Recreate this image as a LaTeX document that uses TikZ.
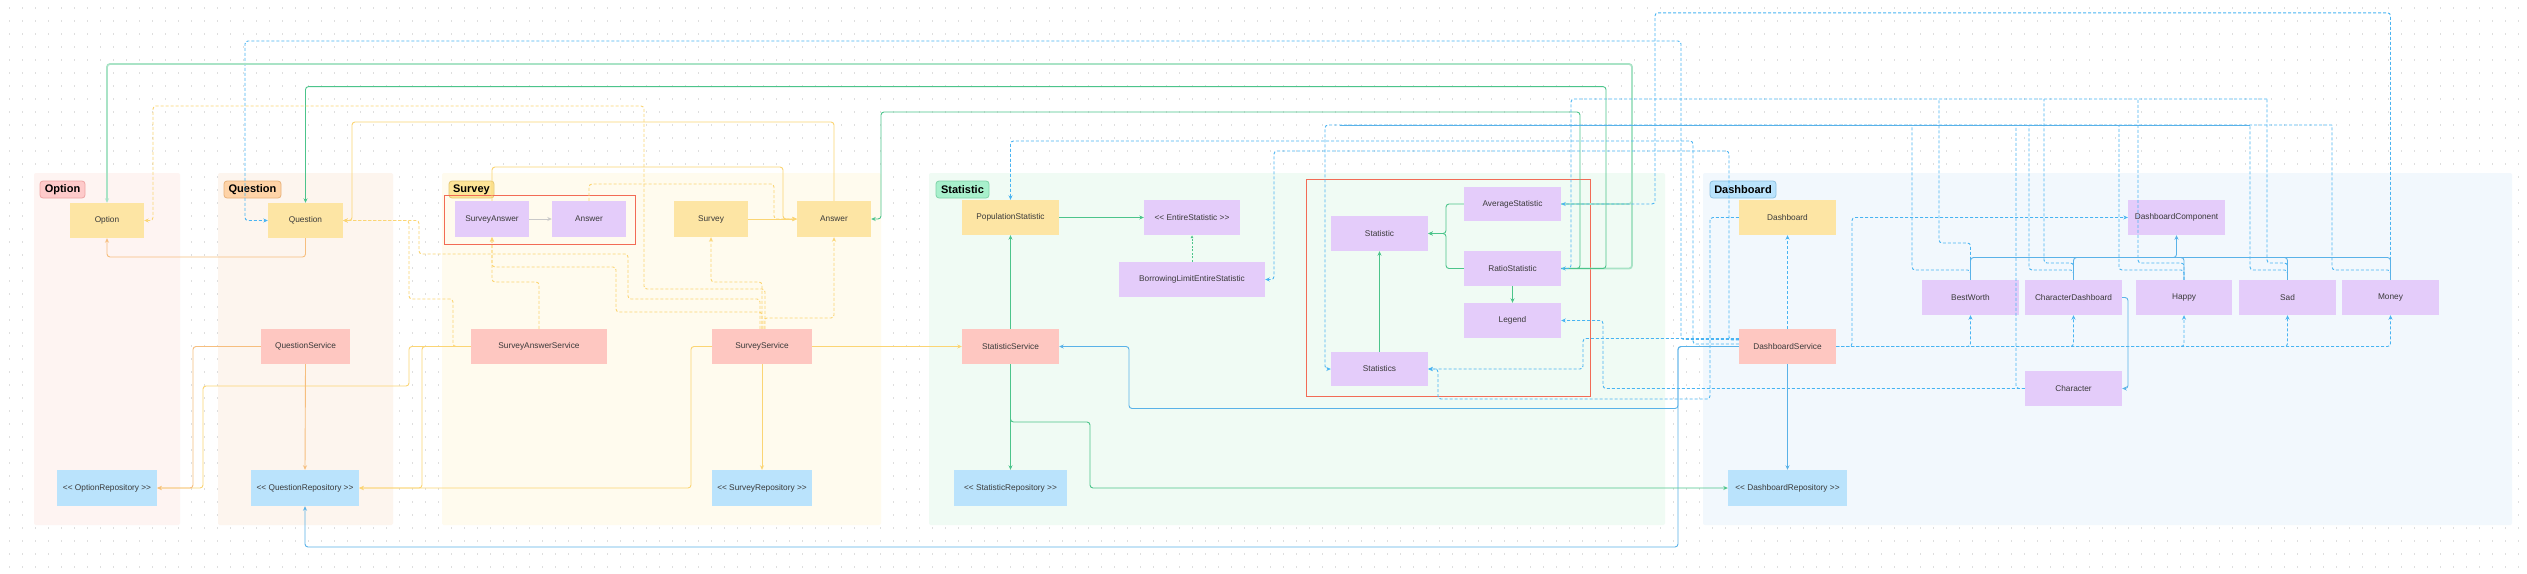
\documentclass[tikz,border=0pt]{standalone}
\usepackage{fontspec}
\setmainfont{Liberation Sans}[Ligatures=TeXOff]
\usetikzlibrary{arrows.meta}
\definecolor{cyel}{HTML}{FDE5A4}
\definecolor{cpur}{HTML}{E4CCFA}
\definecolor{cpnk}{HTML}{FEC7C1}
\definecolor{crep}{HTML}{BAE3FC}
\definecolor{bgopt}{HTML}{FEF4F2}
\definecolor{bgque}{HTML}{FDF5EE}
\definecolor{bgsur}{HTML}{FFFBEE}
\definecolor{bgsta}{HTML}{F0FBF4}
\definecolor{bgdsh}{HTML}{F2F8FD}
\definecolor{lopf}{HTML}{FECACA}\definecolor{lopd}{HTML}{EDA5A5}
\definecolor{lqf}{HTML}{FED3A7}\definecolor{lqd}{HTML}{E9B27A}
\definecolor{lsf}{HTML}{FDE597}\definecolor{lsd}{HTML}{E5C875}
\definecolor{ltf}{HTML}{A8F0CC}\definecolor{ltd}{HTML}{7FD3A8}
\definecolor{ldf}{HTML}{BAE3FC}\definecolor{ldd}{HTML}{8DC2E3}
\definecolor{cred}{HTML}{F26B55}
\definecolor{lgrn}{HTML}{4CC48B}
\definecolor{llgrn}{HTML}{A9E3C6}
\definecolor{lblu}{HTML}{49B4F2}
\definecolor{lsblu}{HTML}{5AB2E8}
\definecolor{lyel}{HTML}{FBD574}
\definecolor{lora}{HTML}{F6BE7E}
\definecolor{lgry}{HTML}{C9C9C9}
\definecolor{dotc}{HTML}{DEDEDE}
\definecolor{txt}{HTML}{3A3A3A}
\begin{document}
\begin{tikzpicture}[x=1pt,y=-1pt,
  base/.style={inner sep=0pt, text=txt, font=\fontsize{8.3}{10}\selectfont},
  ent/.style={base, fill=cyel},
  pur/.style={base, fill=cpur},
  svc/.style={base, fill=cpnk},
  rep/.style={base, fill=crep},
  lab/.style={inner sep=0pt, rounded corners=3pt, line width=0.8pt, font=\fontsize{11}{13}\selectfont\bfseries, text=black},
  con/.style={line width=0.9pt, rounded corners=3pt, -{Stealth[length=4.5pt,width=4pt]}},
  plain/.style={line width=0.9pt, rounded corners=3pt},
  dsh/.style={dash pattern=on 3pt off 2pt},
  cg/.style={con, draw=lgrn},
  clg/.style={con, draw=llgrn, line width=1.8pt},
  cb/.style={con, draw=lsblu},
  cbd/.style={con, draw=lblu, dsh},
  pbd/.style={plain, draw=lblu, dsh},
  cy/.style={con, draw=lyel},
  cyd/.style={con, draw=lyel, dsh},
  co/.style={con, draw=lora},
  cgr/.style={con, draw=lgry, line width=0.7pt}
]
\useasboundingbox (0,0) rectangle (2527,573);
\fill[white] (0,0) rectangle (2527,573);
\foreach \r in {0,...,43}
  \draw[dotc, line width=1.1pt, dash pattern=on 1.1pt off 11.9pt] (9,8+13*\r) -- (2527,8+13*\r);

% group backgrounds
\fill[bgopt, rounded corners=2pt] (34,173) rectangle (180,525);
\fill[bgque, rounded corners=2pt] (218,173) rectangle (393,525);
\fill[bgsur, rounded corners=2pt] (442,173) rectangle (881,525);
\fill[bgsta, rounded corners=2pt] (929,173) rectangle (1665,525);
\fill[bgdsh, rounded corners=2pt] (1703,173) rectangle (2512,525);

% group labels
\node[lab, fill=lopf, draw=lopd, minimum width=45pt, minimum height=17pt] (gOpt) at (62.5,189.5) {Option};
\node[lab, fill=lqf, draw=lqd, minimum width=57pt, minimum height=17pt] (gQue) at (252.5,189.5) {Question};
\node[lab, fill=lsf, draw=lsd, minimum width=45pt, minimum height=17pt] (gSur) at (471.5,189.5) {Survey};
\node[lab, fill=ltf, draw=ltd, minimum width=53pt, minimum height=17pt] (gSta) at (962.5,189.5) {Statistic};
\node[lab, fill=ldf, draw=ldd, minimum width=66pt, minimum height=17pt] (gDsh) at (1743,189.5) {Dashboard};

% entity nodes
\node[ent, minimum width=74pt, minimum height=35pt] (opt) at (107,220.5) {Option};
\node[ent, minimum width=75pt, minimum height=35pt] (que) at (305.5,220.5) {Question};
\node[ent, minimum width=74pt, minimum height=36pt] (sur) at (711,219) {Survey};
\node[ent, minimum width=74pt, minimum height=36pt] (ans) at (834,219) {Answer};
\node[ent, minimum width=97pt, minimum height=35pt] (pop) at (1010.5,217.5) {PopulationStatistic};
\node[ent, minimum width=97pt, minimum height=35pt] (dsb) at (1787.5,217.5) {Dashboard};

% purple nodes
\node[pur, minimum width=74pt, minimum height=36pt] (sa) at (492,219) {SurveyAnswer};
\node[pur, minimum width=74pt, minimum height=36pt] (pans) at (589,219) {Answer};
\node[pur, minimum width=96pt, minimum height=35pt] (ent) at (1192,217.5) {<< EntireStatistic >>};
\node[pur, minimum width=146pt, minimum height=35pt] (blim) at (1192,279.5) {BorrowingLimitEntireStatistic};
\node[pur, minimum width=97pt, minimum height=34pt] (avg) at (1512.5,204) {AverageStatistic};
\node[pur, minimum width=97pt, minimum height=35pt] (stat) at (1379.5,233.5) {Statistic};
\node[pur, minimum width=97pt, minimum height=35pt] (ratio) at (1512.5,268.5) {RatioStatistic};
\node[pur, minimum width=97pt, minimum height=35pt] (leg) at (1512.5,320.5) {Legend};
\node[pur, minimum width=97pt, minimum height=34pt] (stats) at (1379.5,369) {Statistics};
\node[pur, minimum width=97pt, minimum height=35pt] (dcomp) at (2176.5,217.5) {DashboardComponent};
\node[pur, minimum width=97pt, minimum height=35pt] (best) at (1970.5,297.5) {BestWorth};
\node[pur, minimum width=97pt, minimum height=35pt] (chd) at (2073.5,297.5) {CharacterDashboard};
\node[pur, minimum width=96pt, minimum height=35pt] (happy) at (2184,297.5) {Happy};
\node[pur, minimum width=97pt, minimum height=35pt] (sad) at (2287.5,297.5) {Sad};
\node[pur, minimum width=97pt, minimum height=35pt] (money) at (2390.5,297.5) {Money};
\node[pur, minimum width=97pt, minimum height=35pt] (chr) at (2073.5,388.5) {Character};

% services
\node[svc, minimum width=89pt, minimum height=35pt] (qs) at (305.5,346.5) {QuestionService};
\node[svc, minimum width=136pt, minimum height=35pt] (sas) at (539,346.5) {SurveyAnswerService};
\node[svc, minimum width=100pt, minimum height=35pt] (ss) at (762,346.5) {SurveyService};
\node[svc, minimum width=97pt, minimum height=35pt] (sts) at (1010.5,346.5) {StatisticService};
\node[svc, minimum width=97pt, minimum height=35pt] (ds) at (1787.5,346.5) {DashboardService};

% repositories
\node[rep, minimum width=100pt, minimum height=36pt] (orep) at (107,488) {<< OptionRepository >>};
\node[rep, minimum width=108pt, minimum height=36pt] (qrep) at (305,488) {<< QuestionRepository >>};
\node[rep, minimum width=100pt, minimum height=36pt] (srep) at (762,488) {<< SurveyRepository >>};
\node[rep, minimum width=113pt, minimum height=36pt] (strep) at (1010.5,488) {<< StatisticRepository >>};
\node[rep, minimum width=119pt, minimum height=36pt] (drep) at (1787.5,488) {<< DashboardRepository >>};

% red frames
\draw[cred, line width=1pt] (444,195) rectangle (635,244);
\draw[cred, line width=1pt] (1306,179) rectangle (1590,396);

% bus points
\coordinate (busR) at (1571,99);
\coordinate (busS) at (1325,125);

% ---------- connectors: Option / Question / Survey ----------
\draw[cbd] ([yshift=7pt]ds.west) -- (1681,339.5) -- (1681,41) -- (245,41) -- (245,220.5) -- (que.west);
\draw[clg] (ratio.east) -- (1632,268.5) -- (1632,64) -- (107,64) -- (opt.north);
\draw[plain, draw=llgrn, line width=1.8pt] (avg.east) -- (1632,204) -- (1632,190);
\draw[cg] (ratio.east) -- (1606,268.5) -- (1606,86.6) -- (305.5,86.6) -- (que.north);
\draw[cg] (ratio.east) -- (1580,268.5) -- (1580,112) -- (881,112) -- (881,219) -- (ans.east);
\draw[cyd] ([xshift=3pt]ss.north) -- (765,289) -- (644,289) -- (644,106) -- (153,106) -- (153,220.5) -- (opt.east);
\draw[cy] (ans.north) -- (834,122) -- (352,122) -- (352,220.5) -- (que.east);
\draw[co] (que.south) -- (305.5,257) -- (107,257) -- (opt.south);
\draw[cyd] (sas.west) -- (453,346.5) -- (453,299) -- (409,299) -- (409,220.5) -- (que.east);
\draw[cyd] ([xshift=-2pt]ss.north) -- (760,299) -- (628,299) -- (628,254) -- (419,254) -- (419,220.5) -- (que.east);
\draw[cyd] (sas.north) -- (539,282) -- (492,282) -- (sa.south);
\draw[cyd] (ss.north) -- (762,312) -- (616,312) -- (616,267) -- (492,267) -- (sa.south);
\draw[cgr] (sa.east) -- (pans.west);
\draw[cy] (sa.north) -- (492,167) -- (783,167) -- (783,219) -- (ans.west);
\draw[cyd] (pans.north) -- (589,184) -- (774,184) -- (774,219) -- (ans.west);
\draw[cy] (sur.east) -- (ans.west);
\draw[cyd] (ss.north) -- (762,282) -- (711,282) -- (sur.south);
\draw[cyd] ([xshift=2pt]ss.north) -- (764,318) -- (834,318) -- (ans.south);
\draw[cy] (ss.south) -- (srep.north);
\draw[cy] (ss.west) -- (691,346.5) -- (691,488) -- (qrep.east);
\draw[cy] (sas.west) -- (422,346.5) -- (422,488) -- (qrep.east);
\draw[cy] (sas.west) -- (409,346.5) -- (409,386) -- (203,386) -- (203,488) -- (orep.east);
\draw[co] (qs.west) -- (193,346.5) -- (193,488) -- (orep.east);
\draw[co] (qs.south) -- (qrep.north);
\draw[cy] (ss.east) -- (sts.west);

% ---------- Statistic ----------
\draw[cb] (ds.west) -- (1678,346.5) -- (1678,547) -- (305,547) -- (qrep.south);
\draw[cb] (ds.west) -- (1678,346.5) -- (1678,408.5) -- (1129,408.5) -- (1129,346.5) -- (sts.east);
\draw[cg] (pop.east) -- (ent.west);
\draw[con, draw=lgrn, dash pattern=on 2pt off 1.5pt, -{Latex[length=3pt,width=3pt]}] (blim.north) -- (ent.south);
\draw[cg] (sts.north) -- (pop.south);
\draw[cg] (sts.south) -- (strep.north);
\draw[cg] (sts.south) -- (1010.5,422) -- (1090,422) -- (1090,488) -- (drep.west);
\draw[cbd] ([yshift=2.5pt]ds.west) -- (1693,344) -- (1693,141) -- (1010.5,141) -- (pop.north);
\draw[cbd] ([yshift=6.5pt]ds.west) -- (1729,340) -- (1729,151) -- (1274,151) -- (1274,279.5) -- (blim.east);
\draw[cbd] ([yshift=8pt]ds.west) -- (1583,338.5) -- (1583,369) -- (stats.east);
\draw[cbd] (dsb.west) -- (1710,217.5) -- (1710,399) -- (1438,399) -- (1438,369) -- (stats.east);
\draw[cbd] (chr.west) -- (1603,388.5) -- (1603,320.5) -- (leg.east);
\draw[cg] (avg.west) -- (1446,204) -- (1446,233.5) -- (stat.east);
\draw[cg] (ratio.west) -- (1446,268.5) -- (1446,233.5) -- (stat.east);
\draw[cg] (ratio.south) -- (leg.north);
\draw[cg] (stats.north) -- (stat.south);

% ---------- dashboard components -> Statistics (y=125) ----------
\draw[pbd] (chr.west) -- (2016,388.5) -- (2016,125);
\draw[pbd] (best.north) -- (1970.5,270) -- (1912,270) -- (1912,125);
\draw[pbd] (chd.north) -- (2073.5,270) -- (2029,270) -- (2029,125);
\draw[pbd] (happy.north) -- (2184,270) -- (2119,270) -- (2119,125);
\draw[pbd] (sad.north) -- (2287.5,270) -- (2250,270) -- (2250,125);
\draw[pbd] (money.north) -- (2390.5,270) -- (2332,270) -- (2332,125);
\draw[cbd] (2332,125) -- (busS) -- (1325,369) -- (stats.west);
\draw[plain, draw=lsblu] (1340,125) -- (2250,125);

% ---------- dashboard components -> RatioStatistic (y=99) ----------
\draw[pbd] (best.north) -- (1970.5,243) -- (1939,243) -- (1939,99);
\draw[pbd] (chd.north) -- (2073.5,263) -- (2044,263) -- (2044,99);
\draw[pbd] (happy.north) -- (2184,263) -- (2138,263) -- (2138,99);
\draw[pbd] (sad.north) -- (2287.5,263) -- (2267,263) -- (2267,99);
\draw[cbd] (2267,99) -- (busR) -- (1571,268.5) -- (ratio.east);
\draw[cbd] (money.north) -- (2390.5,12.8) -- (1655,12.8) -- (1655,204) -- (avg.east);

% ---------- inheritance bus to DashboardComponent ----------
\draw[cb] (best.north) -- (1970.5,257.5) -- (2176.5,257.5) -- (dcomp.south);
\draw[plain, draw=lsblu] (chd.north) -- (2073.5,257.5) -- (2176.5,257.5);
\draw[plain, draw=lsblu] (happy.north) -- (2184,257.5) -- (2176.5,257.5);
\draw[plain, draw=lsblu] (sad.north) -- (2287.5,257.5) -- (2176.5,257.5);
\draw[plain, draw=lsblu] (money.north) -- (2390.5,257.5) -- (2176.5,257.5);

% ---------- DashboardService ----------
\draw[cbd] (ds.east) -- (1852,346.5) -- (1852,217.5) -- (dcomp.west);
\draw[cbd] (ds.east) -| (best.south);
\draw[cbd] (ds.east) -| (chd.south);
\draw[cbd] (ds.east) -| (happy.south);
\draw[cbd] (ds.east) -| (sad.south);
\draw[cbd] (ds.east) -| (money.south);
\draw[cb] (chd.east) -- (2128,297.5) -- (2128,388.5) -- (chr.east);
\draw[cbd] (ds.north) -- (dsb.south);
\draw[cb] (ds.south) -- (drep.north);
\end{tikzpicture}
\end{document}
